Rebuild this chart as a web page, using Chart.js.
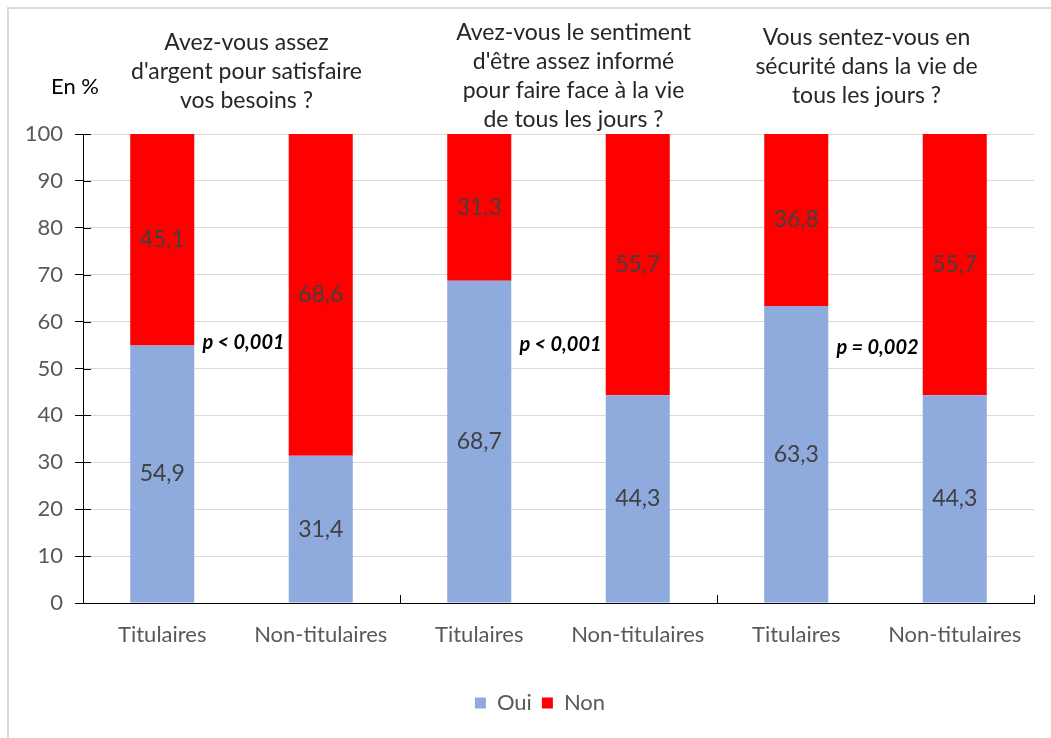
<!DOCTYPE html>
<html>
<head>
<meta charset="utf-8">
<script src="https://cdn.jsdelivr.net/npm/chart.js@4"></script>
<style>
  html, body { margin: 0; padding: 0; background: #fff; }
  #wrap { width: 1051px; height: 738px; position: relative; }
</style>
</head>
<body>
<div id="wrap"><canvas id="chart" width="1051" height="738"></canvas></div>
<script>
const categories = ['Titulaires', 'Non-titulaires', 'Titulaires', 'Non-titulaires', 'Titulaires', 'Non-titulaires']
const oui = [54.9, 31.4, 68.7, 44.3, 63.3, 44.3]
const non = [45.1, 68.6, 31.3, 55.7, 36.8, 55.7]
const questions = [
  ['Avez-vous assez', "d'argent pour satisfaire", 'vos besoins ?'],
  ['Avez-vous le sentiment', "d'être assez informé", 'pour faire face à la vie', 'de tous les jours ?'],
  ['Vous sentez-vous en', 'sécurité dans la vie de', 'tous les jours ?'],
]
const pValues = ['p < 0,001', 'p < 0,001', 'p = 0,002']
const yMin = 0
const yMax = 100
const yStep = 10

const FONT = 'Lato, "Open Sans", sans-serif'
const fmt = v => v.toFixed(1).replace('.', ',')

// titres, p-valeurs, étiquettes, petits traits d'axes
const extras = {
  id: 'extras',
  afterLayout(chart) {
    // légende centrée sur la zone du graphique, pas sur tout le canvas
    chart.legend.left += 23
    chart.legend.right += 23
  },
  beforeDraw(chart) {
    const { ctx } = chart
    ctx.save()
    ctx.strokeStyle = '#d9d9d9'
    ctx.lineWidth = 2
    ctx.beginPath()
    ctx.moveTo(8, 738)
    ctx.lineTo(8, 8)
    ctx.lineTo(1051, 8)
    ctx.stroke()
    ctx.restore()
  },
  afterDatasetsDraw(chart) {
    const { ctx } = chart
    ctx.save()
    ctx.font = '23px ' + FONT
    ctx.fillStyle = '#404040'
    ctx.textAlign = 'center'
    ctx.textBaseline = 'middle'
    chart.data.datasets.forEach((ds, i) => {
      chart.getDatasetMeta(i).data.forEach((bar, j) => {
        ctx.fillText(fmt(ds.data[j]), bar.x, (bar.y + bar.base) / 2)
      })
    })
    ctx.restore()
  },
  afterDraw(chart) {
    const { ctx, scales: { x, y }, chartArea } = chart
    ctx.save()
    // traits de l'axe Y (croisés)
    ctx.strokeStyle = '#000'
    ctx.lineWidth = 1
    for (let v = yMin; v <= yMax; v += yStep) {
      const py = Math.round(y.getPixelForValue(v)) + 0.5
      ctx.beginPath()
      ctx.moveTo(chartArea.left, py)
      ctx.lineTo(chartArea.left + 8, py)
      ctx.stroke()
    }
    // séparateurs de groupes sur l'axe X
    for (let g = 1; g <= questions.length; g++) {
      const px = Math.round((x.getPixelForValue(2 * g - 1) + x.getPixelForValue(Math.min(2 * g, categories.length - 1))) / 2)
      const gx = g === questions.length ? chartArea.right : px
      ctx.beginPath()
      ctx.moveTo(gx + 0.5, chartArea.bottom)
      ctx.lineTo(gx + 0.5, chartArea.bottom - 8)
      ctx.stroke()
    }

    // "En %"
    ctx.fillStyle = '#000'
    ctx.font = '22px ' + FONT
    ctx.textAlign = 'center'
    ctx.textBaseline = 'middle'
    ctx.fillText('En %', 75, 87)

    // questions
    const titleTop = [43, 33, 38]
    const titleShift = [5, 15, -9]
    ctx.fillStyle = '#262626'
    ctx.font = '23px ' + FONT
    questions.forEach((lines, g) => {
      const cx = (x.getPixelForValue(2 * g) + x.getPixelForValue(2 * g + 1)) / 2 + titleShift[g]
      lines.forEach((line, k) => ctx.fillText(line, cx, titleTop[g] + k * 28.8))
    })

    // p-valeurs
    const pShift = [2, 2, 2]
    const pLevel = [55.6, 55.2, 54.5]
    ctx.fillStyle = '#000'
    ctx.font = 'italic bold 20px ' + FONT
    pValues.forEach((p, g) => {
      const cx = (x.getPixelForValue(2 * g) + x.getPixelForValue(2 * g + 1)) / 2 + pShift[g]
      ctx.fillText(p, cx, y.getPixelForValue(pLevel[g]))
    })
    ctx.restore()
  }
}

const ctx = document.getElementById('chart').getContext('2d')
const chart = new Chart(ctx, {
  type: 'bar',
  data: {
    labels: categories,
    datasets: [{
      label: 'Oui',
      backgroundColor: '#8faadc',
      data: oui,
    }, {
      label: 'Non',
      backgroundColor: '#ff0000',
      data: non,
    }]
  },
  options: {
    responsive: false,
    animation: false,
    devicePixelRatio: 1,
    categoryPercentage: 1,
    barPercentage: 0.404,
    layout: { padding: { top: 134, right: 17, left: 0, bottom: 14 } },
    plugins: {
      legend: {
        position: 'bottom',
        labels: {
          boxWidth: 11,
          boxHeight: 11,
          padding: 10,
          color: '#595959',
          font: { family: FONT, size: 22 },
        }
      },
      tooltip: { enabled: false },
    },
    scales: {
      x: {
        stacked: true,
        grid: { display: false, drawTicks: false },
        border: { color: '#000', width: 1 },
        ticks: { color: '#595959', padding: 19, font: { family: FONT, size: 22 } },
        afterFit(scale) { scale.height = 79 },
      },
      y: {
        stacked: true,
        min: yMin,
        max: yMax,
        grid: { color: '#d9d9d9', tickColor: '#000', tickLength: 8 },
        border: { color: '#000', width: 1 },
        ticks: { stepSize: yStep, color: '#595959', padding: 12, font: { family: FONT, size: 22 } },
        afterFit(scale) { scale.width = 83 },
      }
    }
  },
  plugins: [extras]
})
</script>
</body>
</html>
